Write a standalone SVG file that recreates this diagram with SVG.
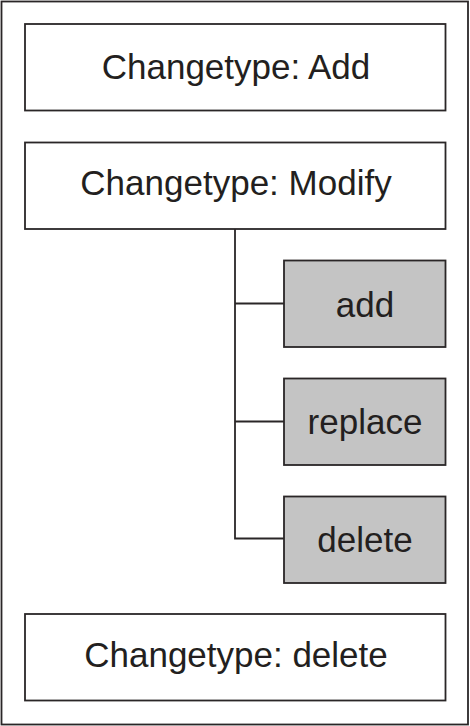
<svg xmlns="http://www.w3.org/2000/svg" width="470" height="726" viewBox="0 0 470 726">
<style>
.box{fill:#ffffff;stroke:#2a2627;stroke-width:1.8}
.sub{fill:#c4c4c4;stroke:#2a2627;stroke-width:1.8}
.lbl{font-family:"Liberation Sans",Arial,sans-serif;font-size:35px;fill:#231f20;text-anchor:middle}
.conn{fill:none;stroke:#2a2627;stroke-width:1.8}
</style>
<rect x="1.5" y="1.5" width="466.5" height="723" fill="#ffffff" stroke="#2a2627" stroke-width="1.8"/>
<g id="add-type">
<rect class="box" x="25" y="24" width="420.5" height="86.5"/>
<text class="lbl" x="236" y="79">Changetype: Add</text>
</g>
<g id="modify-type">
<rect class="box" x="25" y="142.5" width="420.5" height="86.5"/>
<text class="lbl" x="236" y="195">Changetype: Modify</text>
</g>
<g id="connectors">
<path class="conn" d="M235 229 V538.5 H284 M235 303.5 H284 M235 421.5 H284"/>
</g>
<g id="add">
<rect class="sub" x="284" y="260.5" width="161.5" height="86.5"/>
<text class="lbl" x="365" y="316.5">add</text>
</g>
<g id="replace">
<rect class="sub" x="284" y="378.5" width="161.5" height="86.5"/>
<text class="lbl" x="365" y="433.5">replace</text>
</g>
<g id="delete">
<rect class="sub" x="284" y="496.5" width="161.5" height="86.5"/>
<text class="lbl" x="365" y="551.5">delete</text>
</g>
<g id="delete-type">
<rect class="box" x="25" y="614" width="420.5" height="86.5"/>
<text class="lbl" x="236" y="666.5">Changetype: delete</text>
</g>
</svg>
